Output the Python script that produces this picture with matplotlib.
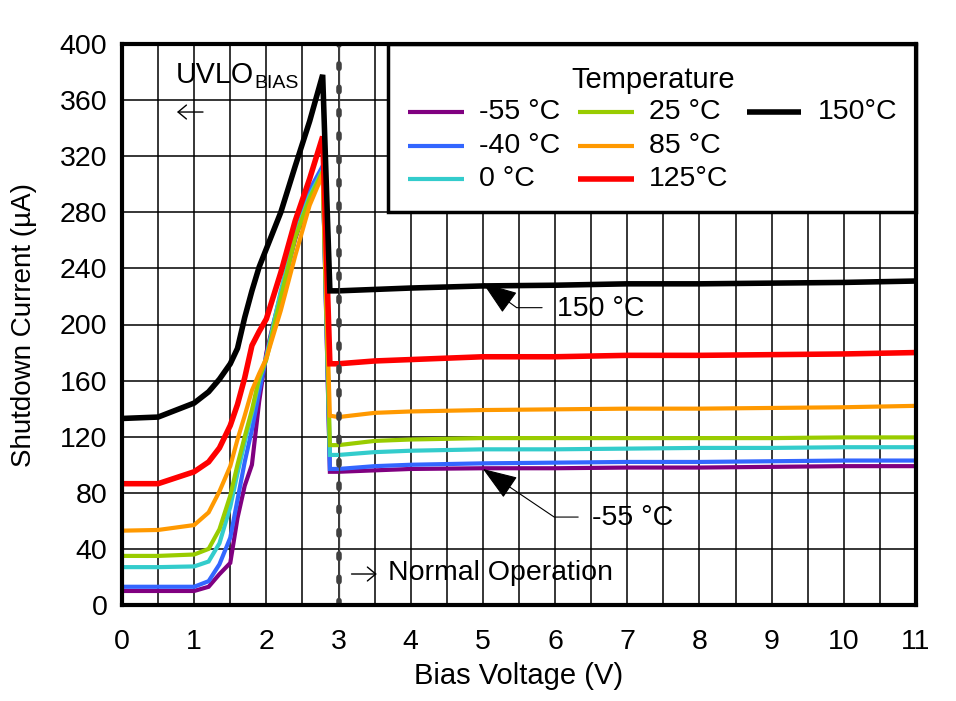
import matplotlib
matplotlib.use('Agg')
import matplotlib.pyplot as plt
from matplotlib.patches import Rectangle

plt.rcParams['font.family'] = ['Liberation Sans', 'DejaVu Sans']

# ---------------- data ----------------
voltage = [0, 0.5, 1.0, 1.2, 1.35, 1.5, 1.6, 1.7, 1.8, 1.9, 2.0, 2.2, 2.4, 2.6, 2.78, 2.88,
           3.0, 3.5, 4, 5, 6, 7, 8, 9, 10, 11]

i_m55 = [10, 10, 10, 13, 22, 30, 62, 85, 100, 145, 180, 222, 261, 293, 312, 95,
         95, 96, 97, 97.5, 97.5, 98, 98, 98.5, 99, 99]
i_m40 = [13, 13, 13, 17, 29, 48, 75, 102, 125, 152, 177, 218, 263, 296, 313, 97,
         97, 99, 100, 101, 101.5, 102, 102, 102.5, 103, 103]
i_0 = [27, 27, 27.5, 31, 44, 70, 94, 116, 137, 160, 177, 224, 264, 292, 310, 107,
       107, 109, 110, 111, 111, 111.5, 112, 112, 112.5, 112.5]
i_25 = [35, 35, 36, 40, 54, 78, 100, 120, 139, 162, 175, 219, 262, 290, 309, 114,
        114, 117, 118, 119, 119, 119, 119, 119, 119.5, 119.5]
i_85 = [53, 53.5, 57, 66, 81, 99, 118, 135, 153, 165, 176, 210, 249, 285, 307, 135,
        134, 137, 138, 139, 139.5, 140, 140, 140.5, 141, 142]
i_125 = [86.5, 86.5, 95, 102, 112, 128, 143, 162, 185, 195, 204, 237, 274, 304, 334, 172,
         172, 174, 175, 177, 177, 178, 178, 178.5, 179, 180]
i_150 = [133, 134, 144, 152, 161, 172, 183, 205, 224, 241, 254, 280, 313, 345, 378, 224,
         224, 225, 226, 227.5, 228, 229, 229, 229.5, 230, 231]

labels = ['-55 °C', '-40 °C', '0 °C', '25 °C', '85 °C', '125°C', '150°C']
series = [i_m55, i_m40, i_0, i_25, i_85, i_125, i_150]
colors = ['#800080', '#3366FF', '#33CCCC', '#99CC00', '#FF9900', '#FF0000', '#000000']
widths = [3.0, 3.0, 3.0, 3.0, 3.0, 4.0, 4.0]

x_ticks = list(range(0, 12))
y_ticks = list(range(0, 401, 40))

FS = 20.5

# ---------------- figure ----------------
W, H = 956, 701
fig = plt.figure(figsize=(W / 100, H / 100), dpi=100)
L, R, T, B = 122, 916, 44, 605
ax = fig.add_axes([L / W, 1 - B / H, (R - L) / W, (B - T) / H])

for y, c, lw in zip(series, colors, widths):
    ax.plot(voltage, y, color=c, lw=lw, solid_joinstyle='miter', zorder=3)

ax.set_xlim(0, 11)
ax.set_ylim(0, 400)
ax.set_xticks(x_ticks)
ax.set_xticks([v + 0.5 for v in x_ticks[:-1]], minor=True)
ax.set_yticks(y_ticks)
ax.grid(True, which='major', color='black', lw=1.1)
ax.grid(True, which='minor', axis='x', color='black', lw=1.1)
ax.set_axisbelow(True)
ax.tick_params(which='both', length=0)
ax.tick_params(axis='y', labelsize=FS, pad=10.5)
ax.tick_params(axis='x', labelsize=FS, pad=17)
for s in ax.spines.values():
    s.set_linewidth(3)
    s.set_zorder(8)

# boundary line at 3 V: thin solid line with thick rounded dashes on top
ax.axvline(3, color='#404040', lw=0.9, zorder=4)
ax.axvline(3, color='#404040', lw=4, ls=(0, (0.8, 3.4)), dash_capstyle='round', zorder=4)

# axis labels
fig.text(519 / W, 1 - 676 / H, 'Bias Voltage (V)', ha='center', va='center', fontsize=21)
fig.text(24 / W, 1 - 325 / H, 'Shutdown Current (µA)', ha='center', va='center',
         rotation=90, fontsize=20)

# ---------------- legend (manual) ----------------
def axc(px, py):
    return ((px - L) / (R - L), (B - py) / (B - T))

x0, y0 = axc(388, 212)
x1, y1 = axc(916, 44)
ax.add_patch(Rectangle((x0, y0), x1 - x0, y1 - y0, transform=ax.transAxes,
                       facecolor='white', edgecolor='black', lw=2.5, zorder=6, clip_on=False))
tx, ty = axc(653, 80)
ax.text(tx, ty, 'Temperature', transform=ax.transAxes, ha='center', va='center',
        fontsize=21, zorder=7)
cols = [(408, 464, 479), (578, 634, 649), (747, 801, 818)]
rows = [112, 146, 179]
for k, (lab, c, lw) in enumerate(zip(labels, colors, widths)):
    col = 0 if k < 3 else (1 if k < 6 else 2)
    row = k % 3 if k < 6 else 0
    hx0, hx1, txx = cols[col]
    yy = rows[row]
    a0, b0 = axc(hx0, yy)
    a1, _ = axc(hx1, yy)
    ax.plot([a0, a1], [b0, b0], transform=ax.transAxes, color=c, lw=lw,
            solid_capstyle='butt', zorder=7, clip_on=False)
    at, _ = axc(txx, yy)
    ax.text(at, b0, lab, transform=ax.transAxes, ha='left', va='center',
            fontsize=FS, zorder=7)

# ---------------- annotations ----------------
ax.text(0.745, 378, 'UVLO', fontsize=20.6, ha='left', va='center', zorder=5)
ax.text(1.83, 372, 'BIAS', fontsize=14, ha='left', va='center', zorder=5)
small_arrow = dict(arrowstyle='->,head_length=0.3,head_width=0.25', color='black', lw=1.0,
                   shrinkA=0, shrinkB=0, mutation_scale=20)
ax.annotate('', xy=(0.762, 351.5), xytext=(1.122, 351.5), arrowprops=small_arrow, zorder=5)
ax.annotate('', xy=(3.53, 22.1), xytext=(3.18, 22.1), arrowprops=small_arrow, zorder=5)
ax.text(3.685, 22.8, 'Normal Operation', fontsize=FS, ha='left', va='center', zorder=5)

arrow_kw = dict(arrowstyle='-|>,head_length=1.1,head_width=0.4', color='black', lw=0.8,
                shrinkA=0, shrinkB=0, mutation_scale=20)
ax.annotate('', xy=(5.0, 229.5), xytext=(5.82, 212),
            arrowprops=dict(connectionstyle='angle,angleA=0,angleB=-36,rad=0', **arrow_kw),
            zorder=5)
ax.text(6.03, 211, '150 °C', fontsize=FS, ha='left', va='center', zorder=5)
ax.annotate('', xy=(5.0, 97), xytext=(6.32, 62.7),
            arrowprops=dict(connectionstyle='angle,angleA=0,angleB=-34,rad=0', **arrow_kw),
            zorder=5)
ax.text(6.51, 62, '-55 °C', fontsize=FS, ha='left', va='center', zorder=5)

fig.savefig('out.png', dpi=100)
